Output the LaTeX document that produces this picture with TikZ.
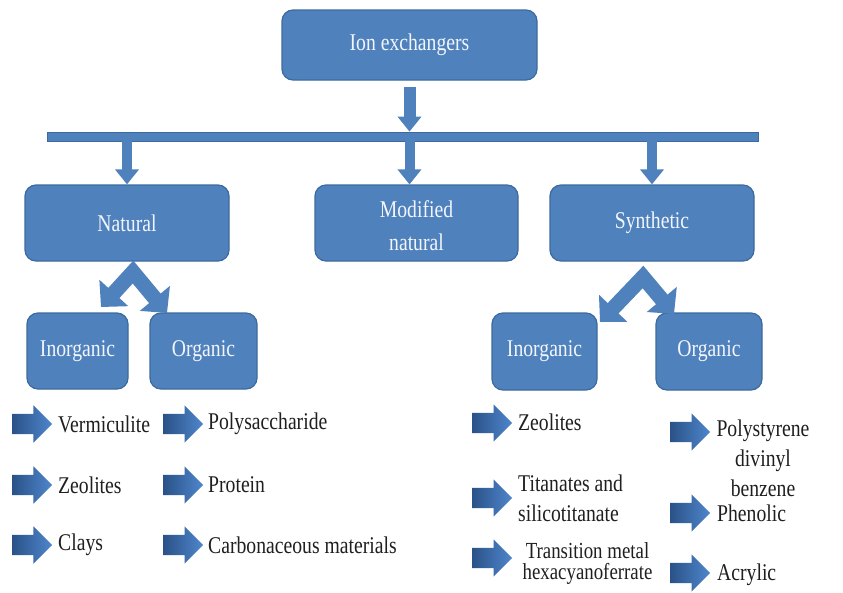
\documentclass[tikz,border=0pt]{standalone}
\usepackage{fontspec}
\setmainfont{Liberation Serif}[FakeStretch=0.82]
\usetikzlibrary{arrows.meta,shapes.arrows,calc}
\definecolor{boxblue}{HTML}{4F81BD}
\definecolor{boxedge}{HTML}{3C6A9E}
\definecolor{boxtext}{HTML}{F2F5FB}
\definecolor{arrowdark}{HTML}{2A5288}
\definecolor{arrowlight}{HTML}{4F86CC}
\definecolor{listtext}{HTML}{1F1F1F}
\begin{document}
\begin{tikzpicture}[x=1pt,y=-1pt,
  box/.style={rectangle, rounded corners=11pt, fill=boxblue, draw=boxedge, line width=1.2pt,
    text=boxtext, align=center, inner sep=0pt, font=\fontsize{24}{32}\selectfont},
  listarrow/.style={single arrow, single arrow head extend=8.5pt, single arrow tip angle=90,
    minimum height=40pt, inner xsep=0pt, inner ysep=10pt, anchor=tail,
    left color=arrowdark, right color=arrowlight, draw=none},
  listitem/.style={anchor=west, inner sep=0pt, text=listtext, font=\fontsize{24}{30}\selectfont},
  downarrow/.style={draw=boxblue, line width=10pt, arrows={-Triangle[width=23pt,length=15pt]}},
  chev/.style={draw=boxblue, line width=15pt, line join=miter,
    arrows={Triangle[width=38pt,length=19pt]-Triangle[width=38pt,length=19pt]}}]
\useasboundingbox (0,0) rectangle (843,592);
\fill[white] (0,0) rectangle (843,592);

% main boxes
\node[box, minimum width=255pt, minimum height=70pt] (ion) at (409.5,45) {Ion exchangers};
\node[fill=boxblue, draw=boxedge, line width=0.8pt, minimum width=711pt, minimum height=9pt, inner sep=0pt] (bar) at (402.5,136.5) {};
\node[box, minimum width=204pt, minimum height=76pt] (natural) at (127,223) {Natural};
\node[box, minimum width=203pt, minimum height=76pt] (modified) at (416.5,223) {\raisebox{-11pt}[0pt][0pt]{\begin{tabular}{@{}c@{}}Modified\\[1pt]natural\end{tabular}}};
\node[box, minimum width=204pt, minimum height=76pt] (synthetic) at (652,223) {Synthetic};

% second level boxes
\node[box, minimum width=101pt, minimum height=76pt] (ninorg) at (77.5,351) {Inorganic};
\node[box, minimum width=107pt, minimum height=76pt] (norg) at (203.5,351) {Organic};
\node[box, minimum width=105pt, minimum height=77pt] (sinorg) at (544.5,351.5) {Inorganic};
\node[box, minimum width=106pt, minimum height=77pt] (sorg) at (709,351.5) {Organic};

% top connectors
\draw[downarrow, line width=12pt, shorten <=6pt] (ion.south) -- (ion.south |- bar.north);
\draw[downarrow] (natural.north |- bar.south) -- (natural.north);
\draw[downarrow] (bar.south -| ion.south) -- (modified.north -| ion.south);
\draw[downarrow] (synthetic.north |- bar.south) -- (synthetic.north);

% split arrows
\coordinate (nv) at (133,272);
\coordinate (nl) at (101,307);
\coordinate (nr) at (167,313);
\draw[chev] (nl) -- (nv) -- (nr);
\coordinate (sv) at (643,277);
\coordinate (sl) at (600,322);
\coordinate (sr) at (674,314);
\draw[chev] (sl) -- (sv) -- (sr);

% natural inorganic list
\node[listarrow] (a1) at (12,424) {};
\node[listitem] (t1) at (58,424) {Vermiculite};
\node[listarrow] (a2) at (12,485) {};
\node[listitem] (t2) at (58,485) {Zeolites};
\node[listarrow] (a3) at (12,545) {};
\node[listitem] (t3) at (58,545) {Clays};

% natural organic list
\node[listarrow] (b1) at (163,424) {};
\node[listitem] (u1) at (208,424) {Polysaccharide};
\node[listarrow] (b2) at (163,485) {};
\node[listitem] (u2) at (208,485) {Protein};
\node[listarrow] (b3) at (163,545) {};
\node[listitem] (u3) at (208,545) {Carbonaceous materials};

% synthetic inorganic list
\node[listarrow] (c1) at (472,423) {};
\node[listitem] (v1) at (518,422) {Zeolites};
\node[listarrow] (c2) at (472,498) {};
\node[listitem, align=left] (v2) at (518,498) {Titanates and\\silicotitanate};
\node[listarrow] (c3) at (472,558) {};
\node[listitem, anchor=center, align=center, font=\fontsize{23}{21}\selectfont] (v3) at (587.5,563) {Transition metal\\hexacyanoferrate};

% synthetic organic list
\node[listarrow] (d1) at (670,432) {};
\node[listitem, anchor=center, align=center] (w1) at (763,458) {Polystyrene\\divinyl\\benzene};
\node[listarrow] (d2) at (670,513) {};
\node[listitem] (w2) at (717,513) {Phenolic};
\node[listarrow] (d3) at (670,573) {};
\node[listitem] (w3) at (717,575) {Acrylic};
\end{tikzpicture}
\end{document}
